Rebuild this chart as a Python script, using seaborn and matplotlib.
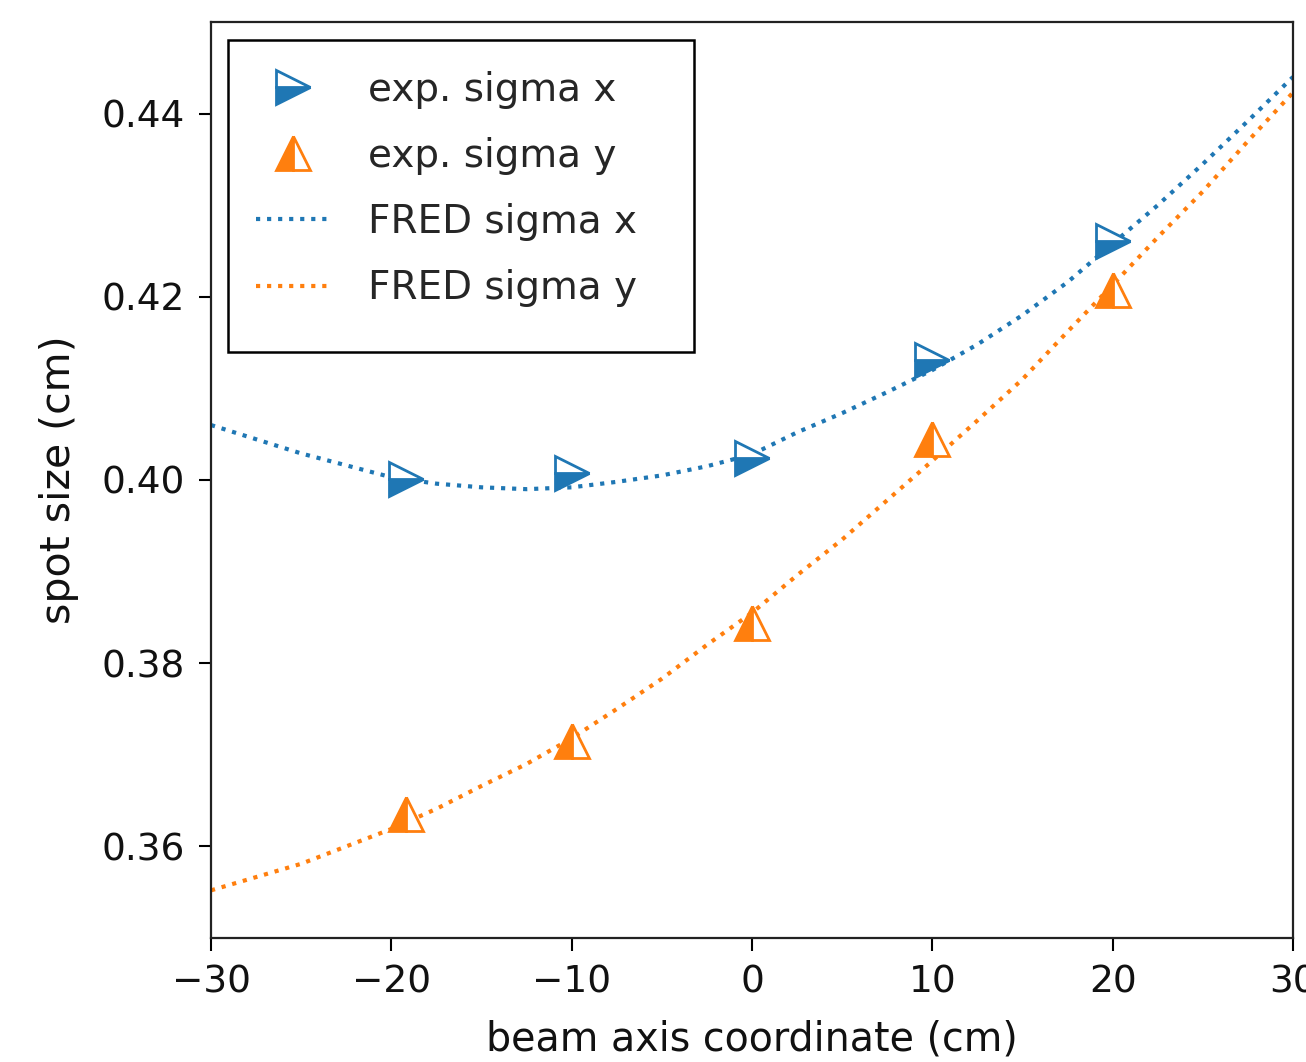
import numpy as np
import pandas as pd
import matplotlib
matplotlib.use("Agg")
import matplotlib.pyplot as plt
from matplotlib.patches import Rectangle
import seaborn as sns

# experimental points
exp_z = [-19.2, -10.0, 0.0, 10.0, 20.0]
exp_sigma_x = [0.4001, 0.4008, 0.4024, 0.4131, 0.4261]
exp_sigma_y = [0.3635, 0.3715, 0.3844, 0.4045, 0.4207]

# FRED simulation curves
fred_z = [-30, -25, -20, -17.5, -15, -12.5, -10, -7.5, -5, -2.5, 0,
          2.5, 5, 7.5, 10, 12.5, 15, 17.5, 20, 22.5, 25, 27.5, 30]
fred_sigma_x = [0.4060, 0.4029, 0.4003, 0.3996, 0.3992, 0.3990, 0.3992, 0.3998,
                0.4005, 0.4015, 0.4028, 0.4052, 0.4073, 0.4096, 0.4120, 0.4148,
                0.4180, 0.4216, 0.4258, 0.4300, 0.4345, 0.4392, 0.4440]
fred_sigma_y = [0.3552, 0.3581, 0.3619, 0.3641, 0.3666, 0.3690, 0.3718, 0.3750,
                0.3783, 0.3820, 0.3855, 0.3896, 0.3935, 0.3978, 0.4021, 0.4065,
                0.4110, 0.4162, 0.4213, 0.4265, 0.4315, 0.4370, 0.4423]

x_ticks = [-30, -20, -10, 0, 10, 20, 30]
y_ticks = [0.36, 0.38, 0.40, 0.42, 0.44]

blue = "#1f77b4"
orange = "#ff7f0e"

sns.set_style("ticks")
plt.rcParams["font.family"] = ["DejaVu Sans"]

W, H = 1306, 1062
fig = plt.figure(figsize=(W / 100, H / 100), dpi=100)
ax = fig.add_axes([211 / W, 1 - 938 / H, (1293 - 211) / W, (938 - 22) / H])

df_exp = pd.DataFrame({"z": exp_z, "sx": exp_sigma_x, "sy": exp_sigma_y})
df_fred = pd.DataFrame({"z": fred_z, "sx": fred_sigma_x, "sy": fred_sigma_y})

sns.lineplot(data=df_exp, x="z", y="sx", ax=ax, linestyle="", marker=">",
             markersize=24, fillstyle="bottom", color=blue, markeredgecolor=blue,
             markerfacecoloralt="white", markeredgewidth=2, label="exp. sigma x",
             sort=False, zorder=3)
sns.lineplot(data=df_exp, x="z", y="sy", ax=ax, linestyle="", marker="^",
             markersize=24, fillstyle="left", color=orange, markeredgecolor=orange,
             markerfacecoloralt="white", markeredgewidth=2, label="exp. sigma y",
             sort=False, zorder=3)
sns.lineplot(data=df_fred, x="z", y="sx", ax=ax, linestyle=":", linewidth=3,
             color=blue, label="FRED sigma x", sort=False, zorder=2)
sns.lineplot(data=df_fred, x="z", y="sy", ax=ax, linestyle=":", linewidth=3,
             color=orange, label="FRED sigma y", sort=False, zorder=2)

ax.set_xlim(-30, 30)
ax.set_ylim(0.35, 0.45)
ax.set_xticks(x_ticks)
ax.set_yticks(y_ticks)
ax.set_xticklabels([f"{t}".replace("-", "\u2212") for t in x_ticks])
ax.set_yticklabels([f"{t:.2f}" for t in y_ticks])
ax.tick_params(axis="both", labelsize=27, length=9, width=1.5, color="black",
               labelcolor="#111111", pad=10)
for s in ax.spines.values():
    s.set_visible(True)
    s.set_color("#222222")
    s.set_linewidth(1.6)

ax.set_xlabel("beam axis coordinate (cm)", fontsize=28.5, labelpad=14, color="#111111")
ax.set_ylabel("spot size (cm)", fontsize=29.5, labelpad=16, color="#111111")

handles, labels = ax.get_legend_handles_labels()
leg = ax.legend(handles, labels, loc="upper left",
                bbox_to_anchor=(225 / W, 1 - 40 / H),
                bbox_transform=fig.transFigure, borderaxespad=0,
                fontsize=28, frameon=False,
                handlelength=1.88, handletextpad=1.0,
                labelspacing=0.72, borderpad=0.8)

# legend frame (wider than its content, as in the reference)
frame = Rectangle((228 / W, 1 - 352 / H), (694 - 228) / W, (352 - 40) / H,
                  transform=fig.transFigure, facecolor="none",
                  edgecolor="black", linewidth=1.8, zorder=5)
fig.patches.append(frame)

fig.savefig("out.png", dpi=100)
